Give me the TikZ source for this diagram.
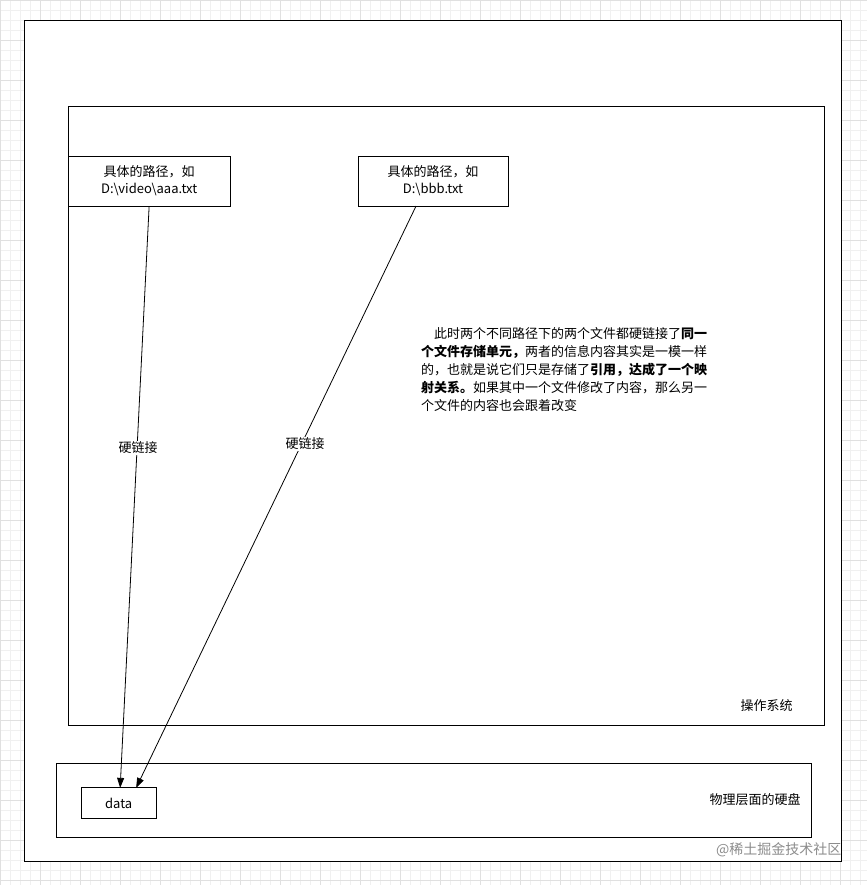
\documentclass[tikz,border=0pt]{standalone}
\usepackage{fontspec}
\setmainfont{Liberation Sans}
\newfontfamily\cjk{Noto Sans CJK SC}
\usetikzlibrary{arrows.meta}
\tikzset{box/.style={draw,thick,fill=white,inner sep=0pt,font=\cjk\fontsize{13}{17}\selectfont,align=center},
lbl/.style={font=\cjk\fontsize{13}{17}\selectfont,fill=white,inner sep=1pt},
link/.style={-{Triangle[length=10pt,width=7pt]},thick}}
\begin{document}
\begin{tikzpicture}[x=1pt,y=-1pt]
\fill[white](0,0)rectangle(867,885);
\draw[black!6,step=10pt](0,0)grid(867,885);
\draw[black!12,step=40pt](0,0)grid(867,885);
\useasboundingbox(0,0)rectangle(867,885);
\draw[thick,fill=white](24,20)rectangle(842,862);
\draw[thick](68,106)rectangle(825,726);
\draw[thick](56,764)rectangle(812,838);
\node[box,minimum width=162pt,minimum height=50pt](p1) at (149,181){具体的路径，如\\D:\textbackslash video\textbackslash aaa.txt};
\node[box,minimum width=150pt,minimum height=50pt](p2) at (433,181){具体的路径，如\\D:\textbackslash bbb.txt};
\node[box,minimum width=75pt,minimum height=31pt](data) at (118.5,803.5){data};
\coordinate(s1) at (149,206);\coordinate(s2) at (416,206);
\coordinate(t1) at (120,788);\coordinate(t2) at (136,788);
\draw[link](s1)--(t1);\draw[link](s2)--(t2);
\node[lbl](l1) at (138,448){硬链接};
\node[lbl](l2) at (305,444){硬链接};
\node[lbl,anchor=east](os) at (794,706){操作系统};
\node[lbl,anchor=east](hd) at (802,800){物理层面的硬盘};
\node[anchor=north west,inner sep=0pt,font=\cjk\fontsize{13}{18}\selectfont,align=left](txt) at (421,327){%
\hspace*{13pt}此时两个不同路径下的两个文件都硬链接了\textbf{同一}\\
\textbf{个文件存储单元，}两者的信息内容其实是一模一样\\
的，也就是说它们只是存储了\textbf{引用，达成了一个映}\\
\textbf{射关系。}如果其中一个文件修改了内容，那么另一\\
个文件的内容也会跟着改变};
\node[anchor=east,font=\cjk\fontsize{14}{17}\selectfont,text=black!45](wm) at (845,850){@稀土掘金技术社区};
\end{tikzpicture}
\end{document}
